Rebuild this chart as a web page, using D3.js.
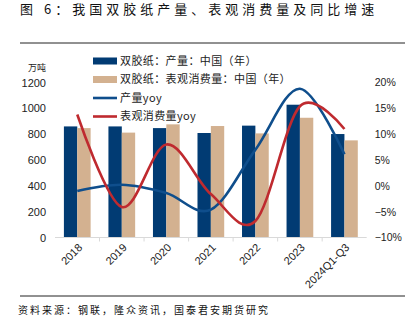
<!DOCTYPE html>
<html><head><meta charset="utf-8">
<script src="https://cdn.jsdelivr.net/npm/d3@7"></script>
<style>
body{margin:0;background:#fff;}
svg{display:block;}
</style></head>
<body>
<svg id="c" width="414" height="329"></svg>
<script>
const categories = ["2018","2019","2020","2021","2022","2023","2024Q1-Q3"];
const production = [860, 860, 847, 809, 866, 1028, 801];
const consumption = [847, 812, 876, 863, 806, 927, 752];
const productionYoy = [-1.0, 0.2, -1.4, -4.6, 7.0, 18.8, 6.1];
const consumptionYoy = [13.8, -4.1, 8.0, -1.6, -6.8, 15.4, 11.0];
const leftTicks = [0, 200, 400, 600, 800, 1000, 1200];
const rightTicks = [-10, -5, 0, 5, 10, 15, 20];
const legendLabels = ["双胶纸：产量：中国（年）","双胶纸：表观消费量：中国（年）","产量yoy","表观消费量yoy"];

const colors = {prod:"#013b73", cons:"#d3b190", pyoy:"#0f4e8c", cyoy:"#bf2a2f"};
const cjk = "'Noto Sans CJK SC', sans-serif";
const latin = "'Liberation Sans', Arial, sans-serif";

const svg = d3.select("#c");
const plot = {left:55, right:366.7, top:82.5, bottom:237.5};

svg.append("text").attr("x",20).attr("y",14)
  .attr("font-family",cjk).attr("font-size",13).attr("letter-spacing",4).attr("fill","#111")
  .text("图 6：我国双胶纸产量、表观消费量及同比增速");
svg.append("line").attr("x1",20).attr("x2",405).attr("y1",43).attr("y2",43).attr("stroke","#222").attr("stroke-width",1);
svg.append("line").attr("x1",20).attr("x2",405).attr("y1",296).attr("y2",296).attr("stroke","#222").attr("stroke-width",1);
svg.append("text").attr("x",18).attr("y",313.5)
  .attr("font-family",cjk).attr("font-size",10).attr("letter-spacing",2).attr("fill","#111")
  .text("资料来源：钢联，隆众资讯，国泰君安期货研究");

const x = d3.scaleBand().domain(categories).range([plot.left, plot.right]).paddingInner(0).paddingOuter(0);
const yL = d3.scaleLinear().domain([0,1200]).range([plot.bottom, plot.top]);
const yR = d3.scaleLinear().domain([-10,20]).range([plot.bottom, plot.top]);
const barW = x.bandwidth()*0.30;

// bars
const g = svg.append("g");
g.selectAll(".p").data(categories).enter().append("rect")
  .attr("x",(d)=>x(d)+x.bandwidth()/2-barW).attr("width",barW)
  .attr("y",(d,i)=>yL(production[i])).attr("height",(d,i)=>yL(0)-yL(production[i]))
  .attr("fill",colors.prod);
g.selectAll(".c").data(categories).enter().append("rect")
  .attr("x",(d)=>x(d)+x.bandwidth()/2).attr("width",barW)
  .attr("y",(d,i)=>yL(consumption[i])).attr("height",(d,i)=>yL(0)-yL(consumption[i]))
  .attr("fill",colors.cons);

// x axis
const xAxis = svg.append("g").attr("transform",`translate(0,${plot.bottom})`);
xAxis.append("line").attr("x1",plot.left).attr("x2",plot.right).attr("y1",0).attr("y2",0).attr("stroke","#d9d9d9");
categories.forEach((c,i)=>{
  if(i>0) xAxis.append("line").attr("x1",x(c)).attr("x2",x(c)).attr("y1",0).attr("y2",4).attr("stroke","#d9d9d9");
});
xAxis.selectAll(".lbl").data(categories).enter().append("text")
  .attr("transform",d=>`translate(${x(d)+x.bandwidth()/2+3},${8}) rotate(-45)`)
  .attr("text-anchor","end").attr("dy","0.35em")
  .attr("font-family",latin).attr("font-size",11).attr("fill","#222").text(d=>d);

// left axis
const la = svg.append("g").attr("transform",`translate(${plot.left-9},0)`)
  .call(d3.axisLeft(yL).tickValues(leftTicks).tickSize(0).tickPadding(0).tickFormat(d3.format("d")));
la.select(".domain").remove();
la.selectAll("text").attr("font-family",latin).attr("font-size",11).attr("fill","#222");
svg.append("text").attr("x",28).attr("y",71).attr("font-family",cjk).attr("font-size",9).attr("fill","#222").text("万吨");

// right axis
const ra = svg.append("g").attr("transform",`translate(${plot.right+8},0)`)
  .call(d3.axisRight(yR).tickValues(rightTicks).tickSize(0).tickPadding(0).tickFormat(d=>(d<0?"\u2212"+(-d):d)+"%"));
ra.select(".domain").remove();
ra.selectAll("text").attr("font-family",latin).attr("font-size",10.5).attr("fill","#222");

// lines
const line = d3.line().x((d,i)=>x(categories[i])+x.bandwidth()/2).y(d=>yR(d)).curve(d3.curveCardinal.tension(0));
svg.append("path").datum(productionYoy).attr("d",line).attr("fill","none").attr("stroke",colors.pyoy).attr("stroke-width",2.6);
svg.append("path").datum(consumptionYoy).attr("d",line).attr("fill","none").attr("stroke",colors.cyoy).attr("stroke-width",2.6);

// legend
const lg = svg.append("g");
const ly = [61, 79.5, 98, 116.5];
lg.append("rect").attr("x",93).attr("y",ly[0]-3.5).attr("width",24).attr("height",7).attr("fill",colors.prod);
lg.append("rect").attr("x",93).attr("y",ly[1]-3.5).attr("width",24).attr("height",7).attr("fill",colors.cons);
lg.append("line").attr("x1",93).attr("x2",117).attr("y1",ly[2]).attr("y2",ly[2]).attr("stroke",colors.pyoy).attr("stroke-width",2.6);
lg.append("line").attr("x1",93).attr("x2",117).attr("y1",ly[3]).attr("y2",ly[3]).attr("stroke",colors.cyoy).attr("stroke-width",2.6);
legendLabels.forEach((t,i)=>{
  lg.append("text").attr("x",120).attr("y",ly[i]).attr("dy","0.35em")
    .attr("font-family",cjk).attr("font-size",11).attr("letter-spacing",0.4).attr("fill","#222").text(t);
});
</script>
</body></html>
